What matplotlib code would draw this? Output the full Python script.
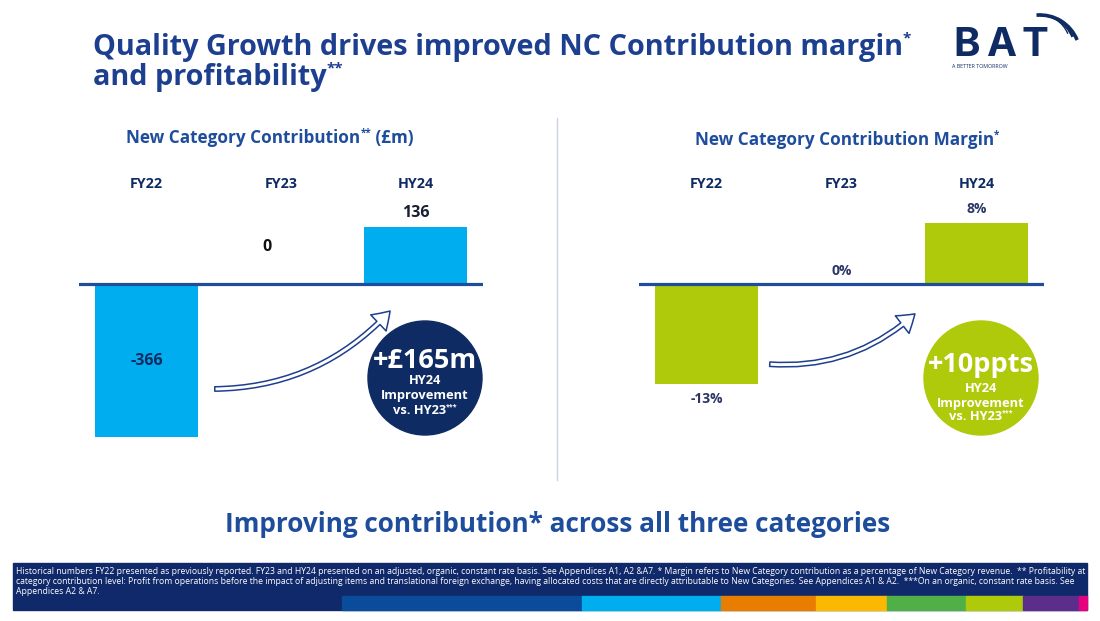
import matplotlib
matplotlib.use("Agg")
import matplotlib.pyplot as plt
from matplotlib import patches
from matplotlib.patches import FancyArrowPatch, ArrowStyle

plt.rcParams['font.family'] = ['Open Sans', 'DejaVu Sans']

# data
categories = ["FY22", "FY23", "HY24"]
contribution_gbp_m = [-366, 0, 136]
contribution_labels = ["-366", "0", "136"]
margin_pct = [-13, 0, 8]
margin_labels = ["-13%", "0%", "8%"]

title_1 = "Quality Growth drives improved NC Contribution margin"
title_2 = "and profitability"
left_title = "New Category Contribution"
right_title = "New Category Contribution Margin"
headline = "Improving contribution* across all three categories"
footnotes = [
    "Historical numbers FY22 presented as previously reported. FY23 and HY24 presented on an adjusted, organic, constant rate basis. "
    "See Appendices A1, A2 &A7. * Margin refers to New Category contribution as a percentage of New Category revenue.  ** Profitability at",
    "category contribution level: Profit from operations before the impact of adjusting items and translational foreign exchange, "
    "having allocated costs that are directly attributable to New Categories. See Appendices A1 & A2.  ***On an organic, constant rate basis. See",
    "Appendices A2 & A7.",
]

NAVY = "#0e2b63"
TITLE_BLUE = "#1d3f8f"
MID_BLUE = "#1e4d9c"
LIGHT_BLUE = "#00aeef"
LIME = "#afca0b"
stripe_colors = ["#0b4c9a", "#00aeef", "#e87d00", "#fbb800", "#50af47", "#afca0b", "#5b2e8c", "#e5007e"]
stripe_edges = [342, 582, 721, 816, 887, 966, 1023, 1079, 1087]

W, H = 1100, 621
fig = plt.figure(figsize=(W / 100, H / 100), dpi=100)
fig.patch.set_facecolor("white")

# overlay in pixel coordinates
ov = fig.add_axes([0, 0, 1, 1], zorder=0)
ov.set_xlim(0, W)
ov.set_ylim(H, 0)
ov.axis("off")
renderer = fig.canvas.get_renderer()


def rich_text(x, y, segments, color, ha="left", zorder=3):
    # segments: (text, fontsize, raise in px); laid out side by side from rendered widths
    arts = []
    for txt, size, dy in segments:
        a = ov.text(0, y - dy, txt, fontsize=size, color=color, fontweight="bold",
                    va="center", ha="left", zorder=zorder)
        arts.append(a)
    widths = [a.get_window_extent(renderer).width for a in arts]
    total = sum(widths)
    cur = x - total / 2 if ha == "center" else x
    for a, w in zip(arts, widths):
        a.set_x(cur)
        cur += w
    return arts


# title
rich_text(93, 47, [(title_1, 20.8, 0), ("*", 11, 9)], TITLE_BLUE)
rich_text(93, 77, [(title_2, 20.8, 0), ("**", 11, 9)], TITLE_BLUE)

# BAT logo
for ch, cx in zip("BAT", [967, 1001, 1035]):
    ov.text(cx, 45, ch, fontsize=29, color=NAVY, fontweight="bold", va="center", ha="center",
            family=["Inter", "DejaVu Sans"])
ov.text(952, 66, "A BETTER TOMORROW", fontsize=3.8, color=NAVY, va="center", ha="left")
for r, lw in [(40, 2.6), (35, 1.8), (30, 1.0)]:
    ov.add_patch(patches.Arc((1040, 15 + r), 2 * r, 2 * r, theta1=-95, theta2=-22,
                             color=NAVY, lw=lw))

# separator
ov.plot([557, 557], [118, 480], color="#c9d4e6", lw=1)

# chart subtitles
rich_text(270, 138, [(left_title, 12.3, 0), ("**", 7, 5), (" (£m)", 12.3, 0)], MID_BLUE, ha="center")
rich_text(847, 140, [(right_title, 12.3, 0), ("*", 7, 5)], MID_BLUE, ha="center")


def bar_panel(rect, values, color, ylim):
    ax = fig.add_axes(rect, zorder=1)
    ax.patch.set_alpha(0)
    x = range(len(values))
    ax.bar(x, values, width=0.765, color=color, zorder=1)
    ax.axhline(0, color="#1e4d9c", lw=2.3, zorder=2)
    ax.set_xlim(-0.5, 2.5)
    ax.set_ylim(*ylim)
    ax.xaxis.tick_top()
    ax.set_xticks(list(x), categories)
    ax.tick_params(axis="x", length=0, pad=3, labelsize=10.3, labelcolor=NAVY)
    for lab in ax.get_xticklabels():
        lab.set_fontweight("bold")
    ax.set_yticks([])
    for sp in ax.spines.values():
        sp.set_visible(False)
    return ax


# left panel: contribution (£m)
axl = bar_panel([79 / W, 1 - 450 / H, 404 / W, 255 / H], contribution_gbp_m, LIGHT_BLUE, (-397, 213))
for i, (v, lab) in enumerate(zip(contribution_gbp_m, contribution_labels)):
    if v > 0:
        axl.annotate(lab, (i, v), xytext=(0, 10), textcoords="offset points", ha="center", va="center",
                     fontsize=11.5, fontweight="bold", color="#1a1f36")
    elif v < 0:
        axl.annotate(lab, (i, v / 2), ha="center", va="center", fontsize=11.5, fontweight="bold", color=NAVY)
    else:
        axl.annotate(lab, (i, v), xytext=(-10, 27), textcoords="offset points", ha="center", va="center",
                     fontsize=11.5, fontweight="bold", color="#111111")

# right panel: margin (%)
axr = bar_panel([639 / W, 1 - 450 / H, 405 / W, 255 / H], margin_pct, LIME, (-21.6, 11.6))
for i, (v, lab) in enumerate(zip(margin_pct, margin_labels)):
    off = -11 if v < 0 else 9.5
    axr.annotate(lab, (i, v), xytext=(0, off), textcoords="offset points", ha="center", va="center",
                 fontsize=10, fontweight="bold", color="#2b3766")

# curved hollow arrows
style = ArrowStyle.Simple(head_length=12, head_width=16, tail_width=3.2)
for tail_xy, head_xy in [((212, 389), (392, 309)), ((767, 364), (917, 312))]:
    ov.add_patch(FancyArrowPatch(tail_xy, head_xy, arrowstyle=style, connectionstyle="arc3,rad=0.22",
                                 facecolor="white", edgecolor="#1e3f8f", lw=1.1, zorder=3))

# improvement circles
for cx, cy, col, big, big_y, lines in [(425, 378, NAVY, "+£165m", 361, [380, 396, 411]),
                                        (981, 378, LIME, "+10ppts", 365, [388, 403, 417])]:
    ov.add_patch(patches.Circle((cx, cy), 57, color=col, zorder=3))
    ov.text(cx, big_y, big, fontsize=19.5, color="white", fontweight="bold", ha="center", va="center", zorder=4)
    ov.text(cx, lines[0], "HY24", fontsize=9.3, color="white", fontweight="bold", ha="center", va="center", zorder=4)
    ov.text(cx, lines[1], "Improvement", fontsize=9.3, color="white", fontweight="bold", ha="center", va="center", zorder=4)
    rich_text(cx, lines[2], [("vs. HY23", 9.3, 0), ("***", 5, 4)], "white", ha="center", zorder=4)

# headline
ov.text(558, 524, headline, fontsize=18.8, color=MID_BLUE, fontweight="bold", ha="center", va="center")

# footer band
ov.add_patch(patches.Rectangle((13, 563), 1087 - 13, 610 - 563, color="#10296a", zorder=1))
for c, x_a, x_b in zip(stripe_colors, stripe_edges[:-1], stripe_edges[1:]):
    ov.add_patch(patches.Rectangle((x_a, 596), x_b - x_a, 14, color=c, zorder=2))

fs = 6.0
ft = ov.text(16, 572, footnotes[0], fontsize=fs, color="white", va="center", ha="left", zorder=3)
w0 = ft.get_window_extent(renderer).width
fs = min(fs * 1068 / w0, 6.4)
ft.set_fontsize(fs)
for line, y in zip(footnotes[1:], [582, 592]):
    ov.text(16, y, line, fontsize=fs, color="white", va="center", ha="left", zorder=3)

fig.savefig("out.png", dpi=100)
